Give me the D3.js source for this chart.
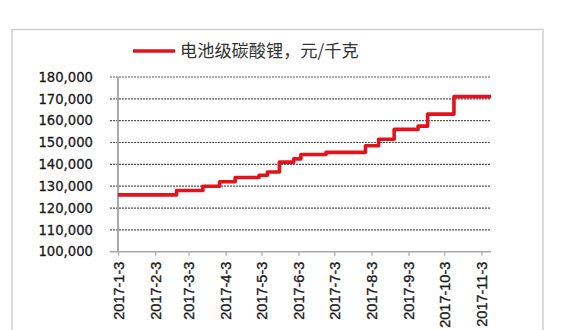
<!DOCTYPE html>
<html>
<head>
<meta charset="utf-8">
<script src="https://cdn.jsdelivr.net/npm/d3@7"></script>
<style>
  html, body { margin: 0; padding: 0; background: #fff; }
  svg { display: block; }
</style>
</head>
<body>
<svg id="chart" width="564" height="330"></svg>
<script>
// --- data ---
var seriesName = "电池级碳酸锂，元/千克";
// dates where the price changes (step chart), last entry = end of series
var priceDates = ["2017-01-03", "2017-02-21", "2017-03-15", "2017-03-29", "2017-04-11",
                  "2017-05-01", "2017-05-08", "2017-05-18", "2017-05-30", "2017-06-05",
                  "2017-06-26", "2017-07-29", "2017-08-09", "2017-08-22", "2017-09-11",
                  "2017-09-19", "2017-10-11", "2017-11-11"];
var priceValues = [126000, 128000, 130000, 132000, 134000,
                   135000, 136500, 141000, 142500, 144500,
                   145500, 148500, 151500, 156000, 157500,
                   163000, 171000, 171000];
var tickDates = ["2017-01-03", "2017-02-03", "2017-03-03", "2017-04-03", "2017-05-03", "2017-06-03",
                 "2017-07-03", "2017-08-03", "2017-09-03", "2017-10-03", "2017-11-03"];
var yTicks = [100000, 110000, 120000, 130000, 140000, 150000, 160000, 170000, 180000];

// --- setup ---
var svg = d3.select("#chart");
var parse = d3.timeParse("%Y-%m-%d");
var red = "#e3121b";
var ink = "#1a1a1a";

var data = priceDates.map(function(d, i) { return { date: parse(d), value: priceValues[i] }; });

var x = d3.scaleTime()
    .domain([parse(priceDates[0]), parse(priceDates[priceDates.length - 1])])
    .range([118, 491]);
var y = d3.scaleLinear().domain([100000, 180000]).range([251.7, 77]);

// outer frame
svg.append("rect")
    .attr("x", 12).attr("y", 29.5)
    .attr("width", 531).attr("height", 320)
    .attr("fill", "#fff")
    .attr("stroke", "#cfcfcf")
    .attr("stroke-width", 1.5);

// gridlines (dashed), skipping the baseline
svg.append("g")
    .selectAll("line")
    .data(yTicks.filter(function(v) { return v > 100000; }))
    .enter().append("line")
    .attr("x1", 110).attr("x2", 491)
    .attr("y1", function(d) { return y(d); })
    .attr("y2", function(d) { return y(d); })
    .attr("stroke", "#555")
    .attr("stroke-width", 1.2)
    .attr("stroke-dasharray", "2,1");

// y axis labels
svg.append("g")
    .selectAll("text")
    .data(yTicks)
    .enter().append("text")
    .attr("x", 93)
    .attr("y", function(d) { return y(d); })
    .attr("dy", "0.36em")
    .attr("text-anchor", "end")
    .attr("font-family", "DejaVu Sans, sans-serif")
    .attr("font-size", 13.2)
    .attr("fill", ink)
    .attr("stroke", ink)
    .attr("stroke-width", 0.3)
    .text(d3.format(","));

// y axis line
svg.append("line")
    .attr("x1", 118).attr("x2", 118)
    .attr("y1", y(180000)).attr("y2", y(100000))
    .attr("stroke", "#a8a8a8").attr("stroke-width", 2);

// x axis (baseline + ticks)
var xAxis = d3.axisBottom(x)
    .tickValues(tickDates.map(parse))
    .tickSize(4)
    .tickSizeOuter(0)
    .tickFormat(function(d) { return d.getFullYear() + "-" + (d.getMonth() + 1) + "-" + d.getDate(); });

var gx = svg.append("g")
    .attr("transform", "translate(0," + y(100000) + ")")
    .call(xAxis);
gx.select(".domain")
    .attr("d", "M110,0H491")
    .attr("stroke", "#a8a8a8").attr("stroke-width", 1.6);
gx.selectAll(".tick line").attr("stroke", "#a8a8a8").attr("stroke-width", 1.2);
gx.selectAll(".tick text")
    .attr("font-family", "Liberation Sans Narrow, Arial Narrow, sans-serif")
    .attr("font-size", 14.5)
    .attr("fill", ink)
    .attr("stroke", ink)
    .attr("stroke-width", 0.35)
    .attr("transform", "rotate(-90)")
    .attr("text-anchor", "end")
    .attr("x", -10)
    .attr("y", 0)
    .attr("dy", "0.35em");

// price step line
var line = d3.line()
    .x(function(d) { return x(d.date); })
    .y(function(d) { return y(d.value); })
    .curve(d3.curveStepAfter);

svg.append("path")
    .datum(data)
    .attr("d", line)
    .attr("fill", "none")
    .attr("stroke", red)
    .attr("stroke-width", 3.6)
    .attr("stroke-linejoin", "round");

// legend
svg.append("line")
    .attr("x1", 133).attr("x2", 175)
    .attr("y1", 51).attr("y2", 51)
    .attr("stroke", red).attr("stroke-width", 3.6);
svg.append("text")
    .attr("x", 180).attr("y", 51)
    .attr("dy", "0.36em")
    .attr("font-family", "Noto Sans CJK SC, sans-serif")
    .attr("font-size", 17.2)
    .attr("fill", "#333")
    .text(seriesName);
</script>
</body>
</html>
